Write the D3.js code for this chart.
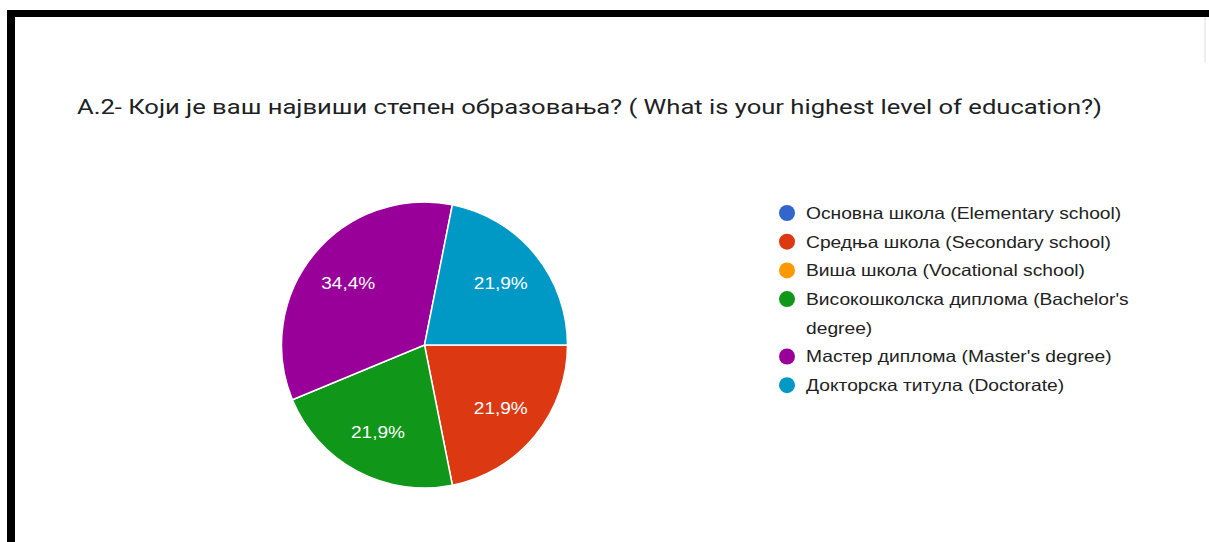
<!DOCTYPE html>
<html>
<head>
<meta charset="utf-8">
<script src="https://cdn.jsdelivr.net/npm/d3@7"></script>
<style>
  html, body { margin: 0; padding: 0; background: #fff; }
  svg { display: block; }
</style>
</head>
<body>
<svg id="chart" width="1209" height="542"></svg>
<script>
// Survey question A.2 — highest level of education (32 responses)
const title = "А.2- Који је ваш највиши степен образовања? ( What is your highest level of education?)";
const categories = [
  "Основна школа (Elementary school)",
  "Средња школа (Secondary school)",
  "Виша школа (Vocational school)",
  "Високошколска диплома (Bachelor's degree)",
  "Мастер диплома (Master's degree)",
  "Докторска титула (Doctorate)"
];
// Legend text wrapped as it appears on screen
const legendLines = [
  ["Основна школа (Elementary school)"],
  ["Средња школа (Secondary school)"],
  ["Виша школа (Vocational school)"],
  ["Високошколска диплома (Bachelor's", "degree)"],
  ["Мастер диплома (Master's degree)"],
  ["Докторска титула (Doctorate)"]
];
const counts = [0, 7, 0, 7, 11, 7];
const colors = ["#3366cc", "#dc3912", "#ff9900", "#109618", "#990099", "#0099c6"];

const svg = d3.select("#chart");
const W = 1209, H = 542;
const stretch = 1.2; // horizontal widening of the screenshot text

// widen a text element horizontally by a factor
function widen(sel, k) {
  sel.each(function () {
    const len = this.getComputedTextLength();
    d3.select(this).attr("textLength", len * k).attr("lengthAdjust", "spacingAndGlyphs");
  });
}

// Frame: black bars on top and left
svg.append("rect").attr("x", 7).attr("y", 10).attr("width", W - 7).attr("height", 7).attr("fill", "#000");
svg.append("rect").attr("x", 7).attr("y", 10).attr("width", 8).attr("height", H - 10).attr("fill", "#000");
svg.append("rect").attr("x", 1204).attr("y", 17).attr("width", 2).attr("height", 45).attr("fill", "#eeeeee");

// Title
svg.append("text")
  .attr("x", 77).attr("y", 114)
  .attr("font-family", "Roboto, 'Noto Sans', sans-serif")
  .attr("font-size", 21)
  .attr("fill", "#202124")
  .text(title)
  .attr("textLength", 1025)
  .attr("lengthAdjust", "spacingAndGlyphs");

// Pie
const cx = 424.5, cy = 345, R = 143;
const color = d3.scaleOrdinal().domain(categories).range(colors);
const total = d3.sum(counts);
const data = categories.map((c, i) => ({ name: c, value: counts[i] }));

const pie = d3.pie()
  .value(d => d.value)
  .sort(null)
  .startAngle(Math.PI / 2)
  .endAngle(Math.PI / 2 + 2 * Math.PI);
const arcs = pie(data).filter(a => a.data.value > 0);
const arc = d3.arc().innerRadius(0).outerRadius(R);
const labelArc = d3.arc().innerRadius(R * 0.69).outerRadius(R * 0.69);

const g = svg.append("g").attr("transform", `translate(${cx},${cy})`);
g.selectAll("path.slice")
  .data(arcs)
  .join("path")
  .attr("class", "slice")
  .attr("d", arc)
  .attr("fill", d => color(d.data.name))
  .attr("stroke", "#fff")
  .attr("stroke-width", 1.5);

const fmt = v => (v / total * 100).toFixed(1).replace(".", ",") + "%";
g.selectAll("text.pct")
  .data(arcs)
  .join("text")
  .attr("class", "pct")
  .attr("transform", d => `translate(${labelArc.centroid(d)})`)
  .attr("text-anchor", "middle")
  .attr("dy", "0.38em")
  .attr("font-family", "'Liberation Sans', Arial, sans-serif")
  .attr("font-size", 17)
  .attr("fill", "#fff")
  .text(d => fmt(d.data.value))
  .call(widen, 1.12);

// Legend
const lineH = 28.7;
const legend = svg.append("g").attr("transform", "translate(787,213)");
let row = 0;
categories.forEach((c, i) => {
  const y = row * lineH;
  legend.append("circle")
    .attr("cx", 0).attr("cy", y).attr("r", 8)
    .attr("fill", color(c));
  const t = legend.append("text")
    .attr("font-family", "'Liberation Sans', Arial, sans-serif")
    .attr("font-size", 16.5)
    .attr("fill", "#222");
  legendLines[i].forEach((ln, j) => {
    t.append("tspan")
      .attr("x", 19).attr("y", y + j * lineH).attr("dy", "0.36em")
      .text(ln)
      .call(widen, stretch / 1.03);
  });
  row += legendLines[i].length;
});
</script>
</body>
</html>
